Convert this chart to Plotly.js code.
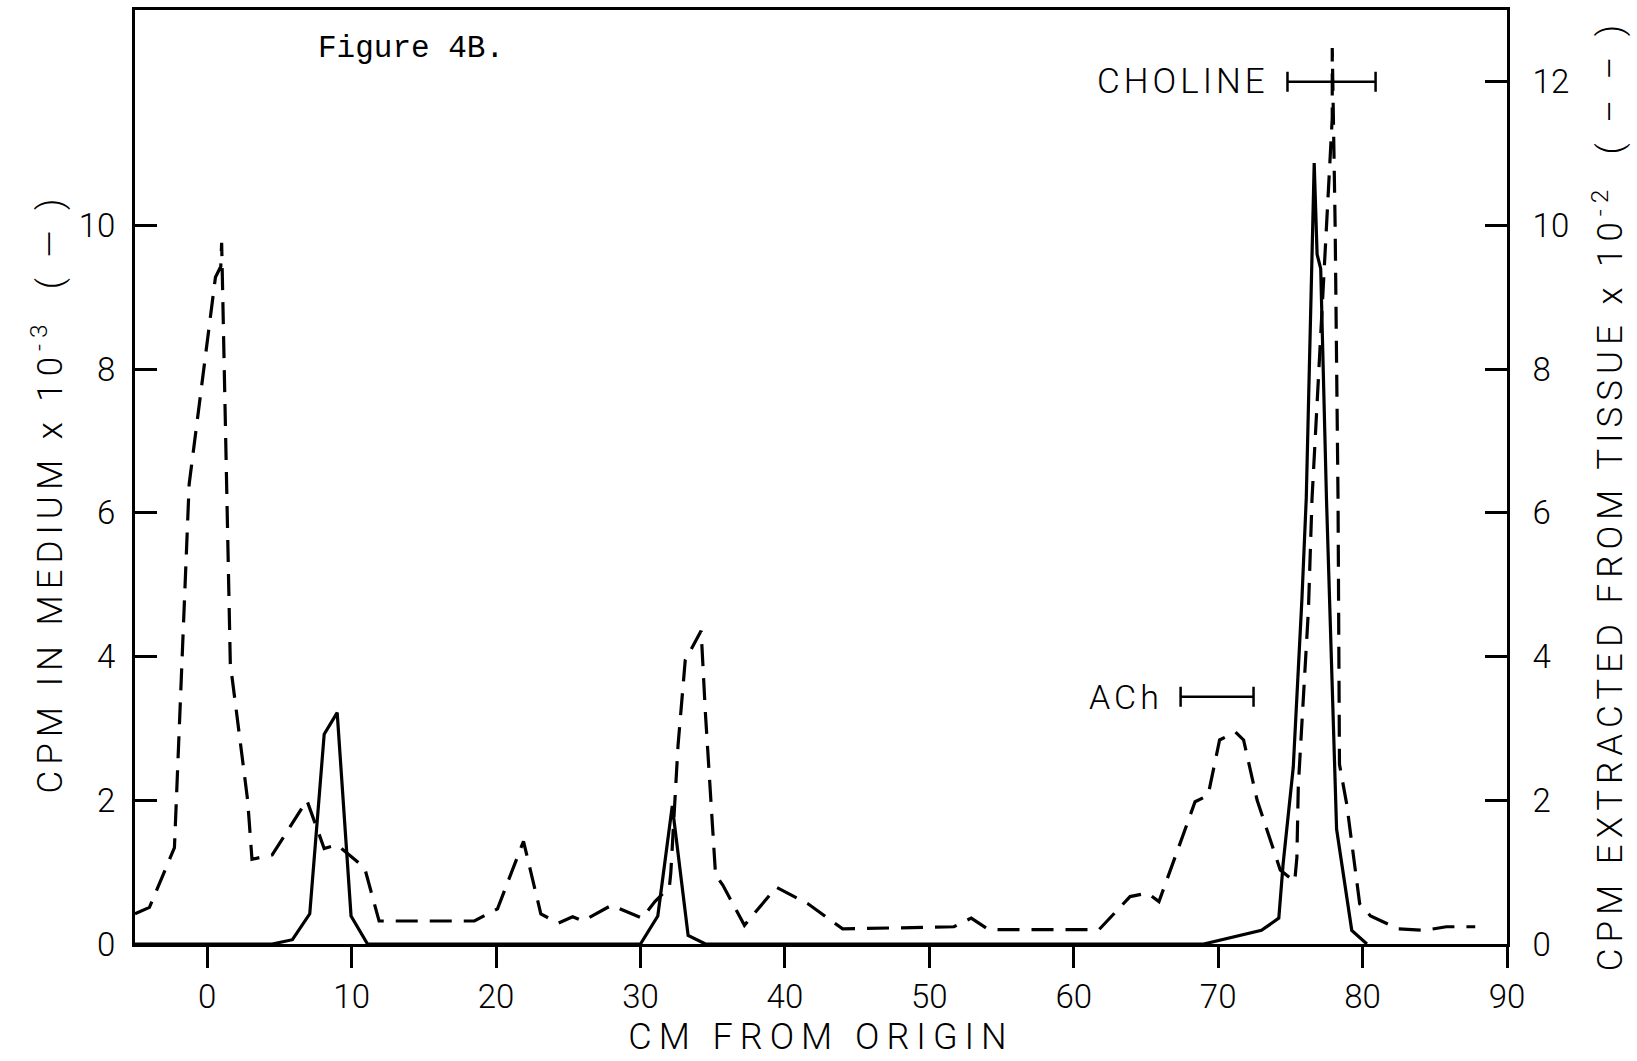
<!DOCTYPE html>
<html>
<head>
<meta charset="utf-8">
<script src="https://cdn.plot.ly/plotly-3.0.1.min.js"></script>
<style>
html, body { margin: 0; padding: 0; background: #fff; }
#chart { width: 1637px; height: 1061px; }
.xtitle { letter-spacing: 7px; }
.ytitle, .y2title { letter-spacing: 6px; }
.annotation-text[style*="Roboto"] { letter-spacing: 4px; }
</style>
</head>
<body>
<div id="chart"></div>
<script>
// ---- Data ----
// Dashed line: CPM extracted from tissue (x 10^-2), right axis
const tissueX = [-5.0, -4.0, -2.27, -1.25, 0.57, 0.94, 1.0, 1.36, 1.6, 1.95, 2.8, 3.1, 4.5, 6.9, 8.1, 9.0, 9.8, 10.9, 11.9, 18.5, 20.1, 21.9, 23.1, 24.3, 25.3, 26.0, 28.0, 30.1, 31.0, 32.0, 32.1, 32.6, 33.1, 34.2, 34.5, 35.2, 35.7, 37.2, 39.4, 41.6, 44.0, 51.7, 52.9, 54.1, 61.75, 63.9, 65.1, 65.9, 67.2, 68.4, 69.3, 70.1, 71.2, 71.76, 72.7, 74.3, 75.3, 75.45, 75.55, 76.25, 76.5, 77.3, 77.9, 77.9, 78.1, 78.3, 78.4, 78.9, 79.8, 80.55, 82.5, 84.3, 85.8, 87.8];
const tissueY = [0.42, 0.51, 1.34, 6.4, 9.28, 9.43, 9.76, 6.18, 3.9, 3.35, 2.0, 1.18, 1.24, 2.0, 1.33, 1.38, 1.24, 1.06, 0.32, 0.32, 0.49, 1.43, 0.42, 0.29, 0.38, 0.32, 0.54, 0.36, 0.59, 0.79, 0.99, 2.76, 3.95, 4.36, 3.2, 0.96, 0.82, 0.26, 0.79, 0.56, 0.21, 0.24, 0.36, 0.2, 0.2, 0.66, 0.71, 0.59, 1.31, 1.98, 2.07, 2.84, 2.95, 2.84, 2.0, 1.03, 0.87, 1.2, 2.2, 4.65, 6.2, 9.3, 11.5, 12.47, 10.0, 6.2, 2.5, 1.95, 0.56, 0.39, 0.21, 0.19, 0.24, 0.24];

// Solid line: CPM in medium (x 10^-3), left axis
const mediumX = [-5, 4.5, 5.9, 7.1, 8.1, 9.0, 9.96, 11.1, 30.0, 31.2, 32.2, 33.3, 34.5, 69.0, 73.0, 74.2, 74.5, 75.2, 75.8, 76.1, 76.65, 76.85, 77.1, 77.5, 78.2, 79.25, 80.3];
const mediumY = [0, 0, 0.06, 0.42, 2.92, 3.22, 0.39, 0, 0, 0.39, 1.92, 0.12, 0, 0, 0.19, 0.36, 1.12, 2.46, 4.8, 6.2, 10.87, 9.6, 9.4, 6.2, 1.6, 0.19, 0];

// Standard markers (migration ranges)
const cholineLabel = 'CHOLINE';
const cholineRange = [74.8, 80.9];
const cholineLevel = 12;
const achLabel = 'ACh';
const achRange = [67.4, 72.45];
const achLevel = 3.44;

// Axis ticks
const xTickVals = [0, 10, 20, 30, 40, 50, 60, 70, 80, 90];
const xTickText = ['0', '10', '20', '30', '40', '50', '60', '70', '80', '90'];
const leftTickVals = [0, 2, 4, 6, 8, 10];
const leftTickText = ['0', '2', '4', '6', '8', '10'];
const rightTickVals = [0, 2, 4, 6, 8, 10, 12];
const rightTickText = ['0', '2', '4', '6', '8', '10', '12'];

const FONT = 'Roboto, "DejaVu Sans", sans-serif';

function rangeBar(range, level, yaxis) {
  const mid = (range[0] + range[1]) / 2;
  const half = (range[1] - range[0]) / 2;
  return {
    type: 'scatter', mode: 'markers', x: [mid], y: [level], yaxis: yaxis,
    marker: { size: 1, color: 'rgba(0,0,0,0)' },
    error_x: { type: 'data', array: [half], symmetric: true, color: '#000', thickness: 2.5, width: 10 },
    hoverinfo: 'skip', showlegend: false
  };
}

const data = [
  {
    type: 'scatter', mode: 'lines', name: 'Tissue',
    x: tissueX, y: tissueY, yaxis: 'y2',
    line: { color: '#000', width: 3.2, dash: '22px,12px' }
  },
  {
    type: 'scatter', mode: 'lines', name: 'Medium',
    x: mediumX, y: mediumY, yaxis: 'y',
    line: { color: '#000', width: 3.2 }
  },
  rangeBar(cholineRange, cholineLevel, 'y2'),
  rangeBar(achRange, achLevel, 'y')
];

const axisCommon = {
  showline: true, linewidth: 3, linecolor: '#000',
  showgrid: false, zeroline: false,
  tickwidth: 3, tickcolor: '#000',
  tickfont: { family: FONT, size: 33, color: '#000', weight: 300 }
};

const layout = {
  width: 1637, height: 1061,
  margin: { l: 135, r: 130, t: 10, b: 117, pad: 0 },
  paper_bgcolor: '#fff', plot_bgcolor: '#fff',
  showlegend: false,
  font: { family: FONT, size: 32, color: '#000', weight: 300 },
  xaxis: Object.assign({}, axisCommon, {
    range: [-5, 90], tickmode: 'array', tickvals: xTickVals, ticktext: xTickText,
    ticks: 'outside', ticklen: 21, mirror: true,
    title: { text: 'CM FROM ORIGIN', font: { family: FONT, size: 36, color: '#000', weight: 300 }, standoff: 10 }
  }),
  yaxis: Object.assign({}, axisCommon, {
    range: [0, 13], tickmode: 'array', tickvals: leftTickVals, ticktext: leftTickText,
    ticks: 'inside', ticklen: 22, ticklabelstandoff: 10,
    title: { text: 'CPM IN MEDIUM x 10<sup>-3</sup>\u00a0\u00a0(\u00a0—\u00a0)', font: { family: FONT, size: 35, color: '#000', weight: 300 }, standoff: 6 }
  }),
  yaxis2: Object.assign({}, axisCommon, {
    range: [0, 13], overlaying: 'y', side: 'right', tickmode: 'array',
    tickvals: rightTickVals, ticktext: rightTickText,
    ticks: 'inside', ticklen: 22, ticklabelstandoff: 16,
    title: { text: 'CPM EXTRACTED FROM TISSUE x 10<sup>-2</sup>\u00a0\u00a0(\u00a0–\u00a0–\u00a0)', font: { family: FONT, size: 35, color: '#000', weight: 300 }, standoff: 30 }
  }),
  annotations: [
    {
      xref: 'paper', yref: 'paper', x: 0.1319, y: 0.9593, xanchor: 'left', yanchor: 'middle',
      text: 'Figure 4B.', showarrow: false,
      font: { family: '"Liberation Mono", "DejaVu Sans Mono", monospace', size: 31, color: '#000' }
    },
    {
      xref: 'x', yref: 'y2', x: cholineRange[0], y: cholineLevel, xanchor: 'right', yanchor: 'middle',
      xshift: -16, text: cholineLabel, showarrow: false,
      font: { family: FONT, size: 35, color: '#000', weight: 300 }
    },
    {
      xref: 'x', yref: 'y', x: achRange[0], y: achLevel, xanchor: 'right', yanchor: 'middle',
      xshift: -16, text: achLabel, showarrow: false,
      font: { family: FONT, size: 34, color: '#000', weight: 300 }
    }
  ]
};

function shiftTitle(sel, d) {
  const t = document.querySelector(sel);
  if (!t) return;
  const x = parseFloat(t.getAttribute('x'));
  if (!isNaN(x)) t.setAttribute('x', x - d);
}

Plotly.newPlot('chart', data, layout, { staticPlot: true, displayModeBar: false }).then(function () {
  shiftTitle('.ytitle', 16);
  shiftTitle('.y2title', 18);
});
</script>
</body>
</html>
